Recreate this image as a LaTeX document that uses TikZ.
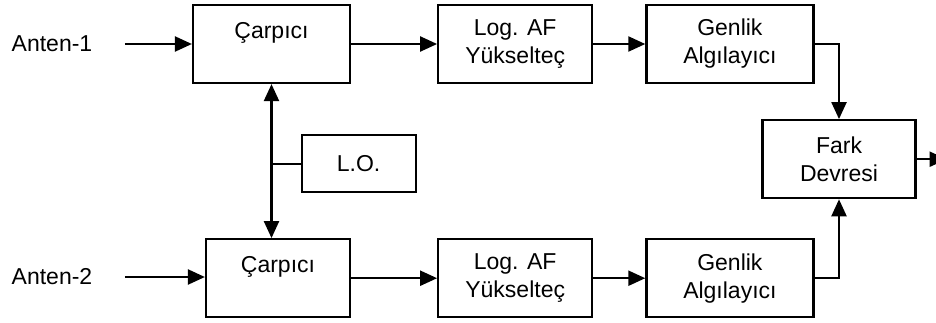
\documentclass[tikz,border=0pt]{standalone}
\usepackage{fontspec}
\setmainfont{Liberation Sans}
\usetikzlibrary{positioning,arrows.meta}

\begin{document}
\begin{tikzpicture}[
    x=1pt, y=1pt,
    font=\fontsize{23}{28}\selectfont,
    >={Triangle[length=17pt, width=15pt]},
    block/.style={draw, line width=2.2pt, minimum height=78pt, align=center, inner sep=0pt},
    arrow/.style={->, line width=2.2pt},
    wire/.style={line width=2pt}
]
\useasboundingbox (0,0) rectangle (936,-322);
% upper channel
\node[block, minimum width=157pt] (mix1) at (271.5,-44) {Çarpıcı\\\mbox{}};
\node[block, minimum width=154pt, right=86pt of mix1] (amp1) {Log. AF\\Yükselteç};
\node[block, minimum width=167pt, right=52pt of amp1] (det1) {Genlik\\Algılayıcı};
% lower channel
\node[block, minimum width=144pt, below left=154pt and 0pt of mix1.south east] (mix2) {Çarpıcı\\\mbox{}};
\node[block, minimum width=154pt, below=154pt of amp1] (amp2) {Log. AF\\Yükselteç};
\node[block, minimum width=167pt, below=154pt of det1] (det2) {Genlik\\Algılayıcı};
% oscillator and difference stage
\node[block, minimum width=114pt, minimum height=57pt, below right=50pt and 29pt of mix1.south] (lo) {L.O.};
\node[block, minimum width=153pt, below=35pt of det1.south east, xshift=24.5pt] (fark) {Fark\\Devresi};
% inputs and output
\node (ant1) at (52,-44) {Anten-1};
\node (ant2) at (52,-277) {Anten-2};
\coordinate[right=29pt of ant1] (in1);
\coordinate[right=29pt of ant2] (in2);
\coordinate[right=30pt of fark] (out);

\draw[arrow] (in1) -- (in1 -| mix1.west);
\draw[arrow] (mix1) -- (amp1);
\draw[arrow] (amp1) -- (det1);
\draw[arrow] (in2) -- (in2 -| mix2.west);
\draw[arrow] (mix2) -- (amp2);
\draw[arrow] (amp2) -- (det2);
\draw[arrow] (det1) -| (fark);
\draw[arrow] (det2) -| (fark);
\draw[arrow] (fark) -- (out);
% L.O. feeds both mixers
\draw[arrow, <->] (mix1.south) -- (mix1.south |- mix2.north);
\draw[wire] (lo.west) -- (lo.west -| mix1.south);
\end{tikzpicture}
\end{document}
